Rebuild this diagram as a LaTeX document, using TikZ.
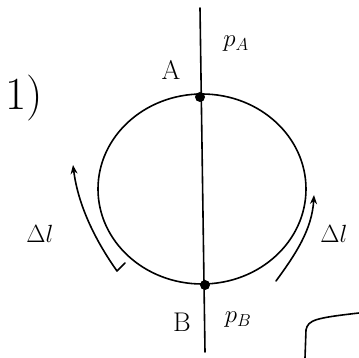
\documentclass[tikz,border=0pt]{standalone}
\usetikzlibrary{arrows.meta}
\begin{document}
\begin{tikzpicture}[x=1pt,y=-1pt,
  pen/.style={line width=1.6pt,line cap=round,line join=round},
  lbl/.style={font=\fontsize{27}{30}\selectfont},
  dotnode/.style={circle,fill=black,inner sep=0pt,minimum size=10pt}]
\useasboundingbox (0,0) rectangle (359,358);
% axis line
\coordinate (top) at (200,8);
\coordinate (bot) at (205,352);
\draw[pen] (top) -- (bot);
% circle
\draw[pen] (202,189) ellipse [x radius=104, y radius=95];
% points
\node[dotnode] (A) at (200,97) {};
\node[dotnode] (B) at (205,285) {};
\node[lbl] (Al) at (171,70) {A};
\node[lbl] (Bl) at (182,322) {B};
\node[lbl] (pA) at (236,44) {$p_A$};
\node[lbl] (pB) at (238,320) {$p_B$};
\node[font=\fontsize{46}{50}\selectfont] (one) at (24,98) {1)};
% left arrow
\coordinate (l1) at (117,271);
\coordinate (l2) at (73,165);
\draw[pen,-{Stealth[length=9pt,width=7pt]}] (125,263) -- (l1) .. controls (95,240) and (78,205) .. (l2);
% right arrow
\coordinate (r1) at (276,281);
\coordinate (r2) at (314,195);
\draw[pen,-{Stealth[length=9pt,width=7pt]}] (r1) .. controls (295,255) and (312,230) .. (r2);
\node[lbl] (ll) at (40,234) {$\Delta l$};
\node[lbl] (rl) at (334,234) {$\Delta l$};
% corner frame
\coordinate (f1) at (305,358);
\coordinate (f2) at (359,313);
\draw[pen] (f1) -- (306,330) .. controls (308,320) and (315,318) .. (f2);
\end{tikzpicture}
\end{document}
